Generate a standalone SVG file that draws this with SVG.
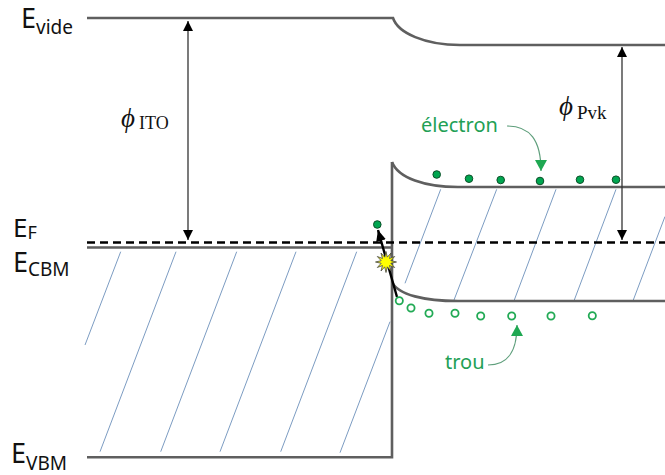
<svg xmlns="http://www.w3.org/2000/svg" width="665" height="475" viewBox="0 0 665 475">
<defs>
<style>
.band{fill:none;stroke:#5f5f5f;stroke-width:2.6;stroke-linejoin:miter}
.hatch{stroke:#7c9cc2;stroke-width:1;fill:none}
.fermi{stroke:#000;stroke-width:2.6;stroke-dasharray:8 5;fill:none}
.dim{stroke:#333;stroke-width:1.3;fill:none}
.lbl{font-family:"Noto Sans","Open Sans",sans-serif;fill:#111}
.glbl{font-family:"Noto Sans","Open Sans",sans-serif;fill:#22a055;font-size:20px}
.phi{font-family:"Liberation Serif","DejaVu Serif",serif;fill:#111}
.el{fill:#00a650;stroke:#0b4f28;stroke-width:1}
.ho{fill:#fff;stroke:#22aa55;stroke-width:1.8}
.garr{fill:none;stroke:#5f9f7c;stroke-width:1.2}
</style>
<marker id="ahk" markerUnits="userSpaceOnUse" markerWidth="10" markerHeight="10" refX="10" refY="5" orient="auto-start-reverse"><path d="M0,0 L10,5 L0,10 z" fill="#000"/></marker>
<marker id="ahg" markerUnits="userSpaceOnUse" markerWidth="11" markerHeight="12" refX="11" refY="6" orient="auto"><path d="M0,0 L11,6 L0,12 z" fill="#1fa852"/></marker>
<marker id="ahb" markerUnits="userSpaceOnUse" markerWidth="11" markerHeight="10" refX="11" refY="5" orient="auto"><path d="M0,0 L11,5 L0,10 z" fill="#000"/></marker>
</defs>
<rect width="665" height="475" fill="#fff"/>

<g id="hatching">
<path class="hatch" d="M120.7,251.7 L85,345 M176,251.7 L100,451.7 M236.7,251.7 L160.7,451.7 M296,251.7 L220,451.7 M356.7,251.7 L280.7,451.7 M390,321.7 L340,452.7"/>
<path class="hatch" d="M440.7,189.3 L405,283.3 M496.7,189.3 L454,300 M556,189.3 L514.3,300 M616,189.3 L574.3,300 M665,216.5 L633.3,300"/>
</g>

<g id="bands">
<path id="vide" class="band" d="M87,18 L393,18 C398,33 425,45 460,45 L665,45"/>
<path id="ito" class="band" d="M87,247.5 L392,247.5 M392,162 L392,457.3 L87,457.3"/>
<path id="cb" class="band" d="M392,162 C398,178 425,187 458,187 L665,187"/>
<path id="vb" class="band" d="M392,282 C398,295 425,301 458,301 L665,301"/>
<path id="ef" class="fermi" d="M87,242.5 L665,242.5"/>
</g>

<g id="connectors">
<path class="dim" d="M188,21 L188,240" marker-start="url(#ahk)" marker-end="url(#ahk)"/>
<path class="dim" d="M622,47 L622,240" marker-start="url(#ahk)" marker-end="url(#ahk)"/>
<path class="garr" d="M507,126 C530,126 541,140 541,171" marker-end="url(#ahg)"/>
<path class="garr" d="M488,365 C508,365 517,352 517,325" marker-end="url(#ahg)"/>
<path d="M397,297 L378,230" stroke="#000" stroke-width="2.4" fill="none" marker-end="url(#ahb)"/>
</g>

<g id="star">
<polygon points="396.5,262 390.83,263.29 394.66,267.5 389.54,265.54 391,271 387.29,266.83 386,272.5 384.71,266.83 381,271 382.46,265.54 377.34,267.5 381.17,263.29 375.5,262 381.17,260.71 377.34,256.5 382.46,258.46 381,253 384.71,257.17 386,251.5 387.29,257.17 391,253 389.54,258.46 394.66,256.5 390.83,260.71" fill="#ffff00" stroke="#444" stroke-width="0.8"/>
</g>

<g id="electrons">
<circle class="el" cx="377.3" cy="224.5" r="3.8"/>
<circle class="el" cx="436.7" cy="174.5" r="3.8"/>
<circle class="el" cx="469" cy="178.7" r="3.8"/>
<circle class="el" cx="500.7" cy="180" r="3.8"/>
<circle class="el" cx="540" cy="181" r="3.8"/>
<circle class="el" cx="580" cy="179.7" r="3.8"/>
<circle class="el" cx="616" cy="179.7" r="3.8"/>
</g>

<g id="holes">
<circle class="ho" cx="399.3" cy="300.8" r="3.6"/>
<circle class="ho" cx="411" cy="308" r="3.6"/>
<circle class="ho" cx="429" cy="313.3" r="3.6"/>
<circle class="ho" cx="455" cy="313.3" r="3.6"/>
<circle class="ho" cx="480.7" cy="316" r="3.6"/>
<circle class="ho" cx="511.7" cy="316" r="3.6"/>
<circle class="ho" cx="551" cy="316" r="3.6"/>
<circle class="ho" cx="592.3" cy="315.7" r="3.6"/>
</g>

<g id="labels">
<text class="lbl" x="21" y="28" font-size="27">E<tspan font-size="19" dy="6">vide</tspan></text>
<text class="lbl" x="13" y="237" font-size="26">E<tspan font-size="18" dy="2">F</tspan></text>
<text class="lbl" x="13" y="272" font-size="27">E<tspan font-size="19" dy="4">CBM</tspan></text>
<text class="lbl" x="11" y="463" font-size="27">E<tspan font-size="19" dy="7">VBM</tspan></text>
<text class="phi" x="121" y="127" font-size="27" font-style="italic">ϕ</text>
<text class="phi" x="139" y="129" font-size="18">ITO</text>
<text class="phi" x="559" y="115" font-size="27" font-style="italic">ϕ</text>
<text class="phi" x="577" y="119" font-size="19">Pvk</text>
<text class="glbl" x="421" y="132">électron</text>
<text class="glbl" x="445" y="369">trou</text>
</g>
</svg>
